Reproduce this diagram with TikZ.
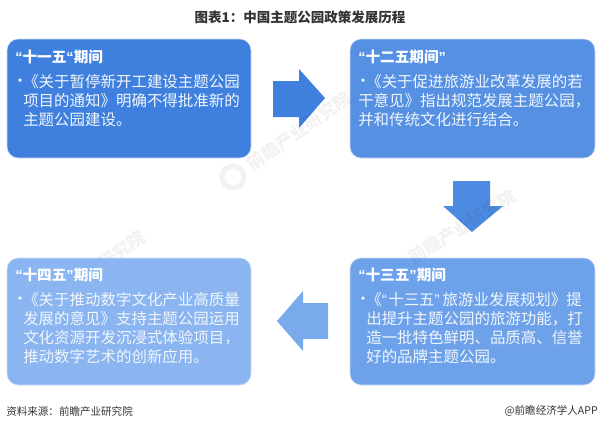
\documentclass[tikz,border=0pt]{standalone}
\usepackage{fontspec}
\setmainfont{Noto Sans CJK SC}
\newfontfamily\quotefont{Liberation Sans}
\newcommand{\qopen}{{\quotefont “}}
\newcommand{\qclose}{{\quotefont ”}}
\definecolor{boxa}{HTML}{3F80DF}
\definecolor{boxb}{HTML}{5590E3}
\definecolor{boxc}{HTML}{6DA2EA}
\definecolor{boxd}{HTML}{8AB5F0}
\definecolor{titlegray}{HTML}{333333}
\tikzset{
	period/.style={draw=white!70!boxb, line width=0.4pt, rounded corners=2.8mm, inner sep=0pt},
	heading/.style={anchor=west, inner sep=0pt, text=white, font=\fontsize{10.4pt}{13pt}\selectfont\bfseries},
	bodytext/.style={anchor=north west, text=white!92!boxb, align=left, inner sep=0pt, font=\fontsize{11pt}{13.55pt}\selectfont},
	bullet/.style={anchor=west, text=white!92!boxb, inner sep=0pt, font=\fontsize{11pt}{13pt}\selectfont},
	smalltext/.style={text=titlegray, inner sep=0pt, font=\fontsize{7.5pt}{9pt}\selectfont},
	wmark/.style={text=black, opacity=0.05, rotate=35, font=\fontsize{12.4pt}{15pt}\selectfont\bfseries},
	wlogo/.style={draw=black, opacity=0.05, line width=3.5pt}
}
\begin{document}
\begin{tikzpicture}[x=0.025cm, y=-0.025cm]
	\useasboundingbox (0, 0) rectangle (600, 428);
	
	%%%%% TITLE %%%%%
	\node[text=titlegray, font=\fontsize{9.6pt}{11pt}\selectfont\bfseries] (title) at (300, 17) {图表1：中国主题公园政策发展历程};
	
	%%%%% WATERMARKS %%%%%
	\node[wmark] (markc) at (122, 250) {研究院};
	
	%%%%% BOXES %%%%%
	\draw[period, fill=boxa] (7, 39) rectangle (251, 158);
	\draw[period, fill=boxb] (350, 39) rectangle (595, 158);
	\draw[period, fill=boxc] (350, 258) rectangle (595, 385);
	\draw[period, fill=boxd] (7, 258) rectangle (251, 385);
	
	\node[heading] (heada) at (15, 57) {\qopen 十一五\qopen 期间};
	\node[bullet] (dota) at (12, 83) {•};
	\node[bodytext] (bodya) at (23, 74) {《关于暂停新开工建设主题公园\\项目的通知》明确不得批准新的\\主题公园建设。};
	
	\node[heading] (headb) at (358, 57) {\qopen 十二五期间\qclose};
	\node[bullet] (dotb) at (355, 83) {•};
	\node[bodytext] (bodyb) at (366, 74) {《关于促进旅游业改革发展的若\\\hspace*{-5.7pt}干意见》指出规范发展主题公园，\\\hspace*{-5.7pt}并和传统文化进行结合。};
	
	\node[heading] (headc) at (358, 275) {\qopen 十三五\qclose 期间};
	\node[bullet] (dotc) at (355, 301) {•};
	\node[bodytext] (bodyc) at (366, 292) {《\qopen\hspace{1pt}十三五\qclose\hspace{2pt}旅游业发展规划》提\\出提升主题公园的旅游功能，打\\造一批特色鲜明、品质高、信誉\\好的品牌主题公园。};
	
	\node[heading] (headd) at (15, 275) {\qopen 十四五\qclose 期间};
	\node[bullet] (dotd) at (12, 301) {•};
	\node[bodytext] (bodyd) at (23, 292) {《关于推动数字文化产业高质量\\发展的意见》支持主题公园运用\\文化资源开发沉浸式体验项目，\\推动数字艺术的创新应用。};
	
	%%%%% ARROWS %%%%%
	\fill[boxa] (273, 81) -- (299, 81) -- (299, 69) -- (325, 98) -- (299, 128) -- (299, 117) -- (273, 117) -- cycle;
	\fill[boxa!35!boxb] (453, 181) -- (490, 181) -- (490, 206) -- (503, 206) -- (472, 232) -- (443, 206) -- (453, 206) -- cycle;
	\fill[boxc!60!boxd] (328, 303) -- (303, 303) -- (303, 291) -- (277, 321) -- (303, 351) -- (303, 339) -- (328, 339) -- cycle;
	
	%%%%% WATERMARKS OVER THE ARROWS %%%%%
	\node[wmark] (marka) at (299, 131) {前瞻产业研究院};
	\node[wmark, rotate=-3] (markb) at (462, 227) {前瞻产业研究院};
	\draw[wlogo] (233, 177) circle (11);
	
	%%%%% FOOT %%%%%
	\node[smalltext, anchor=west] (source) at (6, 411) {资料来源：前瞻产业研究院};
	\node[smalltext, anchor=east] (brand) at (598, 411) {@前瞻经济学人APP};
\end{tikzpicture}
\end{document}
